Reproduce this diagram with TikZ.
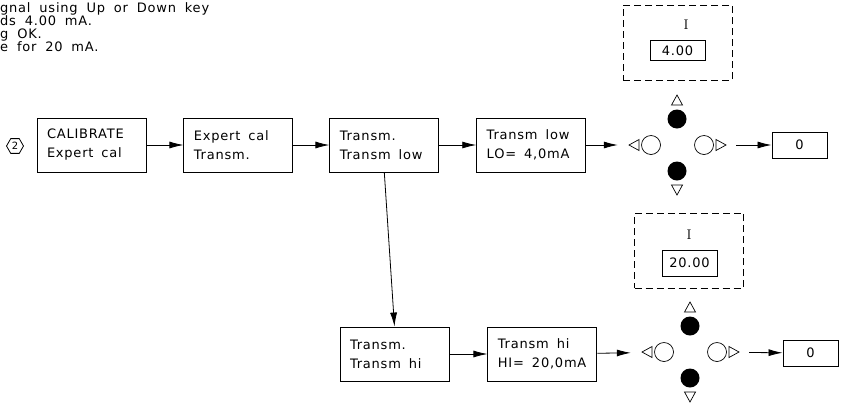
\documentclass[tikz,border=0pt]{standalone}
\usepackage{fontspec}
\usetikzlibrary{arrows.meta,shapes.geometric,positioning}
\newfontfamily\cadfont{DejaVu Sans}[LetterSpace=6,WordSpace=1.8]
\newcommand\widespace{\spaceskip=8pt\relax\xspaceskip=8pt\relax}

\tikzset{
  stepbox/.style={draw, line width=0.9pt, minimum width=109pt, minimum height=54pt,
    text width=89pt, inner xsep=10pt, align=left,
    font=\cadfont\fontsize{13}{19}\selectfont, execute at begin node=\widespace},
  outbox/.style={draw, line width=0.9pt, minimum width=55pt, minimum height=26pt,
    inner sep=0pt, font=\cadfont\fontsize{13}{14}\selectfont},
  valbox/.style={draw, line width=0.8pt, minimum width=55pt, minimum height=20pt,
    inner sep=0pt, font=\cadfont\fontsize{13}{14}\selectfont},
  dispbox/.style={draw, line width=0.8pt, dash pattern=on 7pt off 4pt,
    minimum width=109pt, minimum height=75pt},
  keypad/.style={minimum width=118pt, minimum height=104pt, inner sep=0pt,
    path picture={
      \coordinate (kc) at (path picture bounding box.center);
      \fill ([shift={(0,-26)}]kc) circle [radius=9.5pt];
      \fill ([shift={(0,26)}]kc) circle [radius=9.5pt];
      \draw[line width=0.7pt] ([shift={(-26,0)}]kc) circle [radius=9.5pt];
      \draw[line width=0.7pt] ([shift={(27,0)}]kc) circle [radius=9.5pt];
      \draw[line width=0.7pt] ([shift={(-5.5,-40)}]kc) -- ++(11,0) -- ++(-5.5,-10) -- cycle;
      \draw[line width=0.7pt] ([shift={(-5.5,40)}]kc) -- ++(11,0) -- ++(-5.5,10) -- cycle;
      \draw[line width=0.7pt] ([shift={(-38,-5.5)}]kc) -- ++(0,11) -- ++(-10,-5.5) -- cycle;
      \draw[line width=0.7pt] ([shift={(39,-5.5)}]kc) -- ++(0,11) -- ++(10,-5.5) -- cycle;
    }},
  flow/.style={-{Latex[length=14pt,width=7pt]}, line width=0.8pt},
}

\begin{document}
\begin{tikzpicture}[x=1pt,y=-1pt]
\useasboundingbox (0,0) rectangle (842,408);

% instructions, cut at the left
\node[anchor=north west, inner sep=0pt, align=left,
  font=\cadfont\fontsize{13}{13.3}\selectfont] (note) at (0,2)
  {gnal using Up or Down key\\ds 4.00 mA.\\g OK.\\e for 20 mA.};

% step mark
\node[draw, regular polygon, regular polygon sides=6, minimum size=17pt, inner sep=0pt,
  line width=0.8pt, font=\cadfont\fontsize{10}{10}\selectfont] (mark) at (15,146) {2};

% low point
\node[stepbox] (cal) at (91.5,145) {CALIBRATE\\Expert cal};
\node[stepbox, right=37pt of cal] (expcal) {Expert cal\\Transm.};
\node[stepbox, right=36pt of expcal] (tlow) {Transm.\\Transm low};
\node[stepbox, right=37pt of tlow] (lo) {Transm low\\LO= 4,0mA};
\node[keypad] (keys1) at (677,145) {};
\node[outbox] (out1) at (799.5,145) {0};
\node[dispbox] (disp1) at (677.5,42.5) {};
\node[font=\fontsize{14}{14}\selectfont, inner sep=0pt] (cur1) at (686,25) {I};
\node[valbox] (val1) at (677.5,50.5) {4.00};

\draw[flow] (cal) -- (expcal);
\draw[flow] (expcal) -- (tlow);
\draw[flow] (tlow) -- (lo);
\draw[flow] (lo) -- (keys1);
\draw[flow] (keys1) -- (out1);

% high point
\node[stepbox] (thi) at (394.5,354) {Transm.\\Transm hi};
\node[stepbox, right=38pt of thi] (hi) {Transm hi\\HI= 20,0mA};
\node[keypad] (keys2) at (690,352) {};
\node[outbox] (out2) at (810.5,353) {0};
\node[dispbox] (disp2) at (689,250.5) {};
\node[font=\fontsize{14}{14}\selectfont, inner sep=0pt] (cur2) at (689,235) {I};
\node[outbox] (val2) at (689.5,263) {20.00};

\draw[flow] (tlow.south) -- (thi.north);
\draw[flow] (thi) -- (hi);
\draw[flow] (hi) -- (keys2);
\draw[flow] (keys2) -- (out2);
\end{tikzpicture}
\end{document}
